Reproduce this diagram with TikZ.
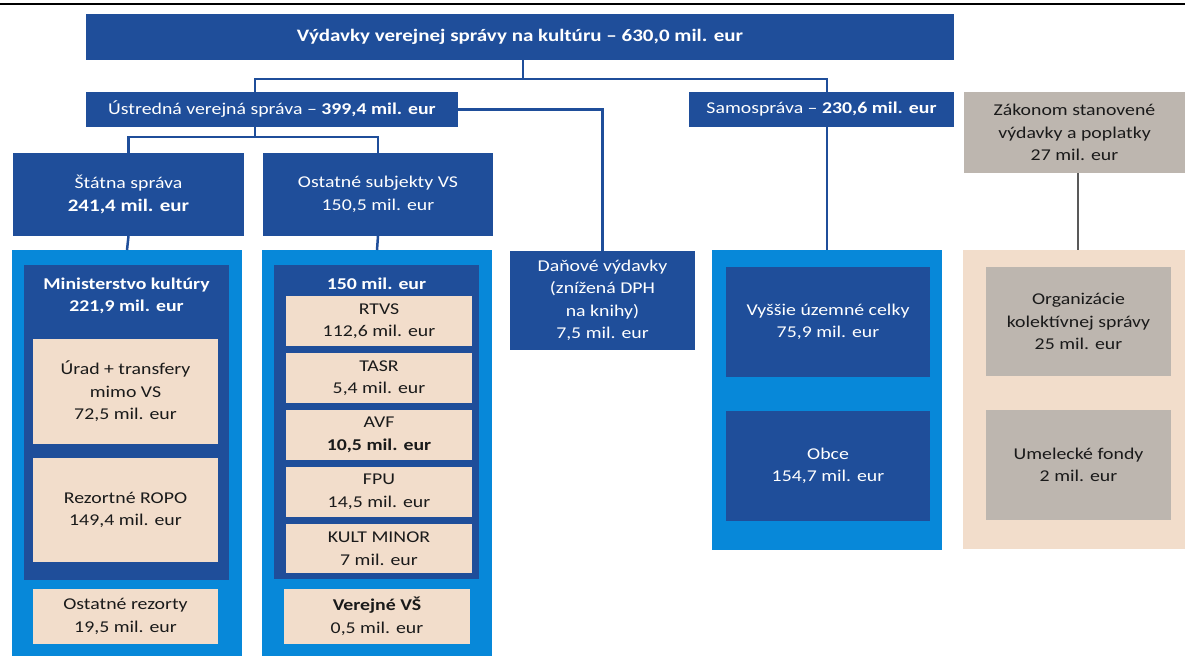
\documentclass[tikz,border=0pt]{standalone}
\usepackage{fontspec}
\setmainfont{Carlito}[FakeStretch=1.2]
\usetikzlibrary{calc}
\definecolor{dblue}{HTML}{1F4E9A}
\definecolor{lblue}{HTML}{0788D9}
\definecolor{beige}{HTML}{F2DDCB}
\definecolor{greyb}{HTML}{BDB6AF}
\definecolor{dtext}{HTML}{1A1A1A}
\definecolor{glink}{HTML}{595959}
\tikzset{
  base/.style={inner sep=0pt, outer sep=0pt, align=center, font=\fontsize{16.5}{22.5}\selectfont},
  dbox/.style={base, fill=dblue, text=white},
  lbox/.style={base, fill=lblue},
  bbox/.style={base, fill=beige, text=dtext},
  gbox/.style={base, fill=greyb, text=dtext},
  wtext/.style={base, text=white},
  conn/.style={draw=dblue, line width=2.5pt},
  gconn/.style={draw=glink, line width=2.5pt},
}
\begin{document}
\begin{tikzpicture}[x=1pt,y=-1pt]
\useasboundingbox (0,0) rectangle (1185,656);
\fill[white] (0,0) rectangle (1185,656);
\draw[black, line width=1.5pt] (0,4) -- (1185,4);

% level 0
\node[dbox, minimum width=868pt, minimum height=46pt, font=\fontsize{17.5}{22}\selectfont\bfseries] (top) at (520,37) {Výdavky verejnej správy na kultúru – 630,0 mil. eur};

% level 1
\node[dbox, minimum width=372pt, minimum height=35pt] (ustr) at (272,109.5) {Ústredná verejná správa – \textbf{399,4 mil. eur}};
\node[dbox, minimum width=265pt, minimum height=35pt] (samo) at (821.5,109.5) {Samospráva – \textbf{230,6 mil. eur}};
\node[gbox, minimum width=221pt, minimum height=81pt] (zakon) at (1074.5,132.5) {Zákonom stanovené\\výdavky a poplatky\\27 mil. eur};

% level 2
\node[dbox, minimum width=231pt, minimum height=83pt] (statna) at (128.5,194.5) {Štátna správa\\\textbf{\fontsize{17.5}{22.5}\selectfont 241,4 mil. eur}};
\node[dbox, minimum width=230pt, minimum height=83pt] (ostat) at (378,194.5) {Ostatné subjekty VS\\150,5 mil. eur};

% containers
\node[lbox, minimum width=230pt, minimum height=406pt] (cont1) at (127,453) {};
\node[lbox, minimum width=230pt, minimum height=406pt] (cont2) at (377,453) {};
\node[dbox, minimum width=185pt, minimum height=99pt] (dan) at (602.5,300.5) {Daňové výdavky\\(znížená DPH\\na knihy)\\7,5 mil. eur};
\node[lbox, minimum width=230pt, minimum height=300pt] (cont3) at (827,400) {};
\node[base, fill=beige, minimum width=222pt, minimum height=299pt] (cont4) at (1074,399.5) {};

% container 1
\node[dbox, minimum width=205pt, minimum height=315pt] (mk) at (126.5,422.5) {};
\node[wtext, font=\fontsize{16.5}{22.5}\selectfont\bfseries] (mkt) at (126.5,296) {Ministerstvo kultúry\\221,9 mil. eur};
\node[bbox, minimum width=185pt, minimum height=105pt] (urad) at (125.5,391.5) {Úrad + transfery\\mimo VS\\72,5 mil. eur};
\node[bbox, minimum width=185pt, minimum height=104pt] (ropo) at (125.5,510) {Rezortné ROPO\\149,4 mil. eur};
\node[bbox, minimum width=185pt, minimum height=55pt] (ostrez) at (125.5,616.5) {Ostatné rezorty\\19,5 mil. eur};

% container 2
\node[dbox, minimum width=205pt, minimum height=314pt] (inner2) at (376.5,422) {};
\node[wtext, font=\fontsize{16.5}{20}\selectfont\bfseries] (i2t) at (376.5,284) {150 mil. eur};
\node[bbox, minimum width=186pt, minimum height=50pt] (rtvs) at (379,321) {RTVS\\112,6 mil. eur};
\node[bbox, minimum width=186pt, minimum height=50pt] (tasr) at (379,378) {TASR\\5,4 mil. eur};
\node[bbox, minimum width=186pt, minimum height=50pt] (avf) at (379,435) {AVF\\\textbf{10,5 mil. eur}};
\node[bbox, minimum width=186pt, minimum height=50pt] (fpu) at (379,492) {FPU\\14,5 mil. eur};
\node[bbox, minimum width=186pt, minimum height=49pt] (kult) at (379,548.5) {KULT MINOR\\7 mil. eur};
\node[bbox, minimum width=186pt, minimum height=55pt] (vs) at (377,616.5) {\textbf{Verejné VŠ}\\0,5 mil. eur};

% container 3
\node[dbox, minimum width=204pt, minimum height=110pt] (vuc) at (828,322) {Vyššie územné celky\\75,9 mil. eur};
\node[dbox, minimum width=204pt, minimum height=110pt] (obce) at (828,466) {Obce\\154,7 mil. eur};

% container 4
\node[gbox, minimum width=185pt, minimum height=109pt] (oks) at (1078.5,321.5) {Organizácie\\kolektívnej správy\\25 mil. eur};
\node[gbox, minimum width=185pt, minimum height=110pt] (uf) at (1078.5,465) {Umelecké fondy\\2 mil. eur};

% connectors
\coordinate (h1) at ($(top.south)+(3,19)$);
\draw[conn] ($(top.south)+(3,0)$) -- (h1);
\draw[conn] (h1) -| ($(ustr.north west)+(169,0)$);
\draw[conn] (h1) -| (cont3.north |- samo.north);
\draw[conn] (samo.south -| cont3.north) -- (cont3.north);
\coordinate (h2) at ($(ustr.south west)+(169,10)$);
\draw[conn] ($(ustr.south west)+(169,0)$) -- (h2);
\draw[conn] (h2) -| (statna.north);
\draw[conn] (h2) -| (ostat.north);
\draw[conn] (ustr.east) -| (dan.north);
\draw[conn] (statna.south) -- (cont1.north);
\draw[conn] (ostat.south) -- (cont2.north);
\draw[gconn] ($(zakon.south)+(3.5,0)$) -- ($(cont4.north)+(4,0)$);
\end{tikzpicture}
\end{document}
